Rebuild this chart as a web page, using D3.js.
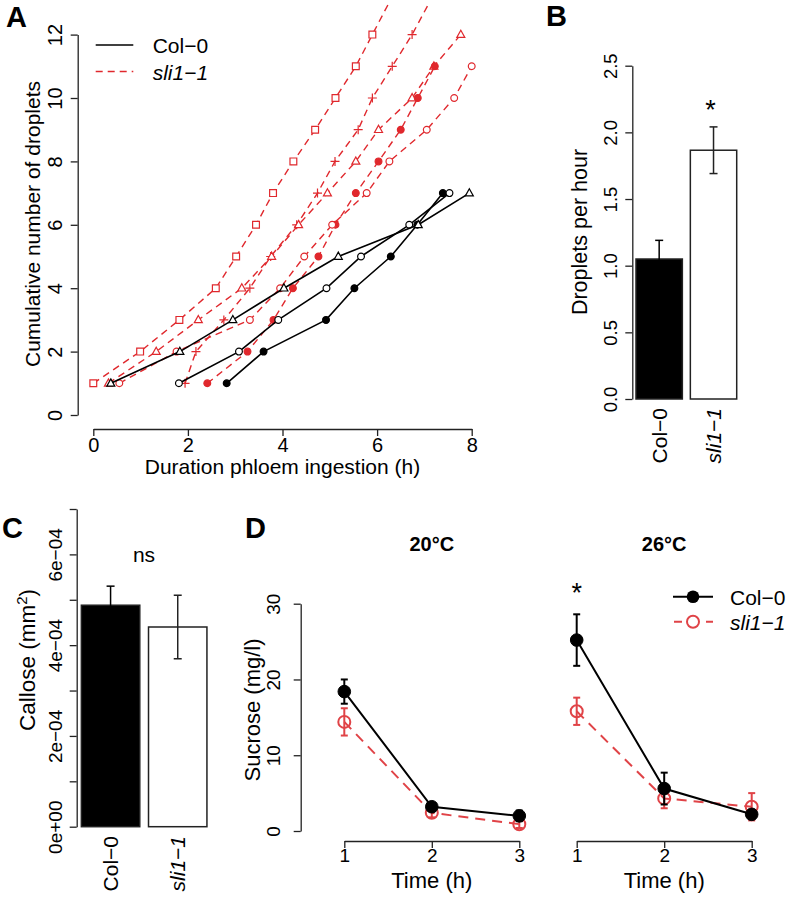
<!DOCTYPE html>
<html>
<head>
<meta charset="utf-8">
<script src="https://cdn.jsdelivr.net/npm/d3@7"></script>
<style>
  body { margin: 0; background: #fff; }
  text { font-family: "Liberation Sans", Arial, sans-serif; fill: #000; }
</style>
</head>
<body>
<svg id="fig" width="788" height="922"></svg>
<script>
// ---- Panel A: time (h) at which each successive droplet appeared
const dropletCounts = [1, 2, 3, 4, 5, 6, 7, 8, 9, 10, 11, 12, 13];
const col0Filled = [2.82, 3.60, 4.92, 5.52, 6.29, 6.85, 7.39];
const col0Open = [1.81, 3.08, 3.91, 4.93, 5.66, 6.68, 7.53];
const col0Triangle = [0.37, 1.83, 2.95, 4.03, 5.18, 6.87, 7.95];
const sliSquare = [0.00, 0.99, 1.82, 2.59, 3.02, 3.44, 3.80, 4.23, 4.69, 5.12, 5.55, 5.90, 6.25];
const sliPlus = [1.94, 2.17, 2.76, 3.31, 3.75, 4.30, 4.74, 5.11, 5.60, 5.90, 6.32, 6.74, 7.10];
const sliTriangle = [0.32, 1.33, 2.22, 3.14, 3.77, 4.34, 4.95, 5.55, 6.03, 6.74, 7.20, 7.77];
const sliFilled = [2.41, 3.26, 3.81, 4.22, 4.76, 5.12, 5.55, 6.03, 6.50, 6.86, 7.22];
const sliOpen = [0.55, 1.76, 3.31, 3.95, 4.46, 5.05, 5.78, 6.26, 7.05, 7.63, 8.00];
const durationTicks = [0, 2, 4, 6, 8];
const dropletTicks = [0, 2, 4, 6, 8, 10, 12];

// ---- Panel B: droplets per hour
const genotypes = ["Col\u22120", "sli1\u22121"];
const dropletRate = [1.05, 1.866];
const dropletRateSE = [0.14, 0.175];
const rateTicks = [0, 0.5, 1, 1.5, 2, 2.5];
const rateTickLabels = ["0.0", "0.5", "1.0", "1.5", "2.0", "2.5"];

// ---- Panel C: callose area
const calloseArea = [4.88e-4, 4.40e-4];
const calloseSE = [0.42e-4, 0.70e-4];
const calloseTicks = [0, 1e-4, 2e-4, 3e-4, 4e-4, 5e-4, 6e-4, 7e-4];
const calloseTickLabels = ["0e+00", "", "2e\u221204", "", "4e\u221204", "", "6e\u221204", ""];

// ---- Panel D: sucrose in honeydew
const hours = [1, 2, 3];
const sucrose20Col = [18.4, 3.2, 2.0];
const sucrose20ColSE = [1.6, 0.5, 0.7];
const sucrose20Sli = [14.4, 2.4, 0.9];
const sucrose20SliSE = [1.8, 0.6, 0.5];
const sucrose26Col = [25.2, 5.6, 2.2];
const sucrose26ColSE = [3.4, 2.1, 0.6];
const sucrose26Sli = [15.8, 4.3, 3.2];
const sucrose26SliSE = [1.8, 1.3, 1.8];
const sucroseTicks = [0, 10, 20, 30];

const RED = "#e0282d";
const RED_D = "#e04347";
const AXIS = "#222";

const svg = d3.select("#fig");

/** Left axis drawn the R way: labels rotated and centred on ticks. */
function leftAxis(x, scale, ticks, labels, offset, size) {
  const g = svg.append("g").attr("transform", `translate(${x},0)`);
  g.call(d3.axisLeft(scale).tickValues(ticks).tickSize(7).tickSizeOuter(0)
      .tickFormat((d, i) => labels[i]));
  g.selectAll("path, line").attr("stroke", AXIS).attr("stroke-width", 1.3);
  g.selectAll(".tick text")
    .attr("transform", "rotate(-90)")
    .attr("x", 0)
    .attr("y", -offset)
    .attr("dy", 0)
    .attr("text-anchor", "middle")
    .attr("font-size", size);
  g.attr("font-family", null).attr("font-size", null);
  return g;
}

function bottomAxis(y, scale, ticks, size, baseline) {
  const g = svg.append("g").attr("transform", `translate(0,${y})`);
  g.call(d3.axisBottom(scale).tickValues(ticks).tickSize(7).tickSizeOuter(0)
      .tickFormat(d3.format("d")));
  g.selectAll("path, line").attr("stroke", AXIS).attr("stroke-width", 1.3);
  g.selectAll(".tick text")
    .attr("y", baseline)
    .attr("dy", 0)
    .attr("font-size", size);
  g.attr("font-family", null).attr("font-size", null);
  return g;
}

function vtext(x, y, str, size, anchor) {
  return svg.append("text")
    .attr("transform", `translate(${x},${y}) rotate(-90)`)
    .attr("text-anchor", anchor || "middle")
    .attr("font-size", size)
    .text(str);
}

function panelLabel(x, y, str) {
  svg.append("text").attr("x", x).attr("y", y)
    .attr("font-size", 29).attr("font-weight", "bold").text(str);
}

// marker shapes used in panel A
function marker(shape) {
  switch (shape) {
    case "square": return "M-3.4,-3.4H3.4V3.4H-3.4Z";
    case "triangle": return "M0,-4.4L4,2.8H-4Z";
    case "plus": return "M-4.5,0H4.5M0,-4.5V4.5";
    default: return d3.symbol(d3.symbolCircle, 36)();
  }
}

// ================= Panel A =================
const xA = d3.scaleLinear().domain([0, 8]).range([93.3, 471.7]);
const yA = d3.scaleLinear().domain([0, 12]).range([415, 34.6]);

const seriesA = [
  { t: sliSquare, red: true, shape: "square", fill: false },
  { t: sliPlus, red: true, shape: "plus", fill: false },
  { t: sliTriangle, red: true, shape: "triangle", fill: false },
  { t: sliFilled, red: true, shape: "circle", fill: true },
  { t: sliOpen, red: true, shape: "circle", fill: false },
  { t: col0Filled, red: false, shape: "circle", fill: true },
  { t: col0Open, red: false, shape: "circle", fill: false },
  { t: col0Triangle, red: false, shape: "triangle", fill: false }
];

const lineA = d3.line().x((d) => xA(d.t)).y((d) => yA(d.n));

seriesA.forEach((s) => {
  const pts = s.t.map((t, i) => ({ t: t, n: dropletCounts[i] }));
  const col = s.red ? RED : "#000";
  svg.append("path")
    .datum(pts)
    .attr("d", lineA)
    .attr("fill", "none")
    .attr("stroke", col)
    .attr("stroke-width", s.red ? 1.4 : 1.6)
    .attr("stroke-dasharray", s.red ? "7,5" : null);
  svg.append("g").selectAll("path")
    .data(pts.filter((d) => d.n <= 12))
    .enter()
    .append("path")
    .attr("transform", (d) => `translate(${xA(d.t)},${yA(d.n)})`)
    .attr("d", marker(s.shape))
    .attr("fill", s.fill ? col : "#fff")
    .attr("stroke", col)
    .attr("stroke-width", 1.2);
});

leftAxis(77.7, yA, dropletTicks, dropletTicks.map(String), 16, 20);
bottomAxis(429, xA, durationTicks, 20, 23);
vtext(40, 224, "Cumulative number of droplets", 21);
svg.append("text").attr("x", 282.5).attr("y", 474).attr("text-anchor", "middle")
  .attr("font-size", 21).text("Duration phloem ingestion (h)");

// legend A
svg.append("line").attr("x1", 95.7).attr("x2", 133.3).attr("y1", 45).attr("y2", 45)
  .attr("stroke", "#000").attr("stroke-width", 1.6);
svg.append("line").attr("x1", 95.7).attr("x2", 133.3).attr("y1", 71.5).attr("y2", 71.5)
  .attr("stroke", RED).attr("stroke-width", 1.4).attr("stroke-dasharray", "7,5");
svg.append("text").attr("x", 152.7).attr("y", 53).attr("font-size", 21).text(genotypes[0]);
svg.append("text").attr("x", 152.7).attr("y", 79.5).attr("font-size", 21)
  .attr("font-style", "italic").text(genotypes[1]);

panelLabel(6, 27, "A");

// ================= Panel B =================
const xB = d3.scaleBand().domain(genotypes).range([632, 740.7])
  .paddingInner(0.147).paddingOuter(0.0735);
const yB = d3.scaleLinear().domain([0, 2.5]).range([399, 65.7]);

/** Draws a bar chart with error bars and rotated genotype names. */
function barPanel(xs, ys, values, errs, nameTop) {
  const g = svg.append("g");
  g.selectAll("rect")
    .data(genotypes)
    .enter()
    .append("rect")
    .attr("x", (d) => xs(d))
    .attr("width", xs.bandwidth())
    .attr("y", (d, i) => ys(values[i]))
    .attr("height", (d, i) => ys(0) - ys(values[i]))
    .attr("fill", (d, i) => (i === 0 ? "#000" : "#fff"))
    .attr("stroke", AXIS)
    .attr("stroke-width", 1.5);
  genotypes.forEach((d, i) => {
    const cx = xs(d) + xs.bandwidth() / 2;
    const col = i === 0 ? "#000" : AXIS;
    const lo = ys(values[i] - errs[i]);
    const hi = ys(values[i] + errs[i]);
    g.append("line").attr("x1", cx).attr("x2", cx).attr("y1", lo).attr("y2", hi)
      .attr("stroke", col).attr("stroke-width", 1.5);
    [lo, hi].forEach((y) => {
      g.append("line").attr("x1", cx - 4).attr("x2", cx + 4).attr("y1", y).attr("y2", y)
        .attr("stroke", col).attr("stroke-width", 1.5);
    });
    vtext(cx + 7.5, nameTop, d, 21, "end").attr("font-style", i === 1 ? "italic" : null);
  });
}

barPanel(xB, yB, dropletRate, dropletRateSE, 408);
leftAxis(632.3, yB, rateTicks, rateTickLabels, 15.5, 18.5);
vtext(587, 232, "Droplets per hour", 21.5);
svg.append("text").attr("x", xB(genotypes[1]) + xB.bandwidth() / 2 - 3).attr("y", 119)
  .attr("text-anchor", "middle").attr("font-size", 27).text("*");
panelLabel(546, 26, "B");

// ================= Panel C =================
const xC = d3.scaleBand().domain(genotypes).range([77, 211.3])
  .paddingInner(0.13).paddingOuter(0.065);
const yC = d3.scaleLinear().domain([0, 7e-4]).range([826.7, 509]);

barPanel(xC, yC, calloseArea, calloseSE, 836);
leftAxis(76.7, yC, calloseTicks, calloseTickLabels, 15, 19);
const cTitle = vtext(35, 660, "Callose (mm", 22.5);
cTitle.append("tspan").attr("dy", -8).attr("font-size", 15).text("2");
cTitle.append("tspan").attr("dy", 8).text(")");
svg.append("text").attr("x", 144).attr("y", 562).attr("text-anchor", "middle")
  .attr("font-size", 21).text("ns");
panelLabel(2, 538, "C");

// ================= Panel D =================
const yD = d3.scaleLinear().domain([0, 30]).range([831, 603.7]);
const xD20 = d3.scaleLinear().domain([1, 3]).range([344.3, 519.3]);
const xD26 = d3.scaleLinear().domain([1, 3]).range([576.7, 751.7]);

/** Time course of both genotypes with error bars. */
function sucrosePanel(xs, col, colSE, sli, sliSE, title) {
  const g = svg.append("g");
  const groups = [
    { v: sli, se: sliSE, red: true },
    { v: col, se: colSE, red: false }
  ];
  groups.forEach((s) => {
    const c = s.red ? RED_D : "#000";
    g.append("path")
      .datum(hours)
      .attr("d", d3.line().x((d) => xs(d)).y((d, i) => yD(s.v[i])))
      .attr("fill", "none")
      .attr("stroke", c)
      .attr("stroke-width", 2)
      .attr("stroke-dasharray", s.red ? "10,7" : null);
    hours.forEach((h, i) => {
      const x = xs(h);
      const lo = yD(s.v[i] - s.se[i]);
      const hi = yD(s.v[i] + s.se[i]);
      g.append("line").attr("x1", x).attr("x2", x).attr("y1", lo).attr("y2", hi)
        .attr("stroke", c).attr("stroke-width", 2);
      [lo, hi].forEach((y) => {
        g.append("line").attr("x1", x - 3.5).attr("x2", x + 3.5).attr("y1", y).attr("y2", y)
          .attr("stroke", c).attr("stroke-width", 2);
      });
    });
    g.selectAll(null)
      .data(hours)
      .enter()
      .append("circle")
      .attr("cx", (d) => xs(d))
      .attr("cy", (d, i) => yD(s.v[i]))
      .attr("r", s.red ? 6 : 6.3)
      .attr("fill", s.red ? "none" : "#000")
      .attr("stroke", c)
      .attr("stroke-width", s.red ? 2 : 1);
  });
  bottomAxis(841, xs, hours, 19, 21);
  svg.append("text").attr("x", xs(2)).attr("y", 888).attr("text-anchor", "middle")
    .attr("font-size", 22).text("Time (h)");
  svg.append("text").attr("x", xs(2)).attr("y", 551).attr("text-anchor", "middle")
    .attr("font-size", 20).attr("font-weight", "bold").text(title);
}

sucrosePanel(xD20, sucrose20Col, sucrose20ColSE, sucrose20Sli, sucrose20SliSE, "20\u00b0C");
sucrosePanel(xD26, sucrose26Col, sucrose26ColSE, sucrose26Sli, sucrose26SliSE, "26\u00b0C");
leftAxis(300.7, yD, sucroseTicks, sucroseTicks.map(String), 20.5, 19);
vtext(260, 710, "Sucrose (mg/l)", 22);
svg.append("text").attr("x", xD26(1)).attr("y", 602).attr("text-anchor", "middle")
  .attr("font-size", 27).text("*");

// legend D
svg.append("line").attr("x1", 673).attr("x2", 713).attr("y1", 596.7).attr("y2", 596.7)
  .attr("stroke", "#000").attr("stroke-width", 2);
svg.append("circle").attr("cx", 693).attr("cy", 596.7).attr("r", 6.3).attr("fill", "#000");
svg.append("line").attr("x1", 673).attr("x2", 713).attr("y1", 621.7).attr("y2", 621.7)
  .attr("stroke", RED_D).attr("stroke-width", 2).attr("stroke-dasharray", "8,8")
  .attr("stroke-dashoffset", -1);
svg.append("circle").attr("cx", 693).attr("cy", 621.7).attr("r", 6).attr("fill", "#fff")
  .attr("stroke", RED_D).attr("stroke-width", 2);
svg.append("text").attr("x", 730).attr("y", 604.5).attr("font-size", 21).text(genotypes[0]);
svg.append("text").attr("x", 730).attr("y", 629.5).attr("font-size", 21)
  .attr("font-style", "italic").text(genotypes[1]);

panelLabel(245, 538, "D");
</script>
</body>
</html>
